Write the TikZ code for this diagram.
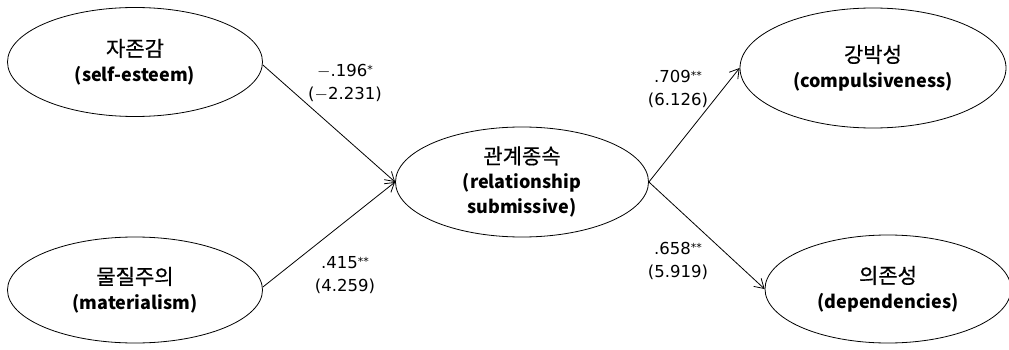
\documentclass[tikz,border=0pt]{standalone}
\usepackage{fontspec}
\setmainfont{Noto Sans CJK KR}
\newfontfamily\kr[FakeBold=0.6]{Noto Sans CJK KR}
\newfontfamily\numfont{DejaVu Sans}
\usetikzlibrary{shapes.geometric,arrows.meta}
\tikzset{
  var/.style={draw, line width=0.8pt, ellipse, align=center, inner sep=0pt, font=\fontsize{18}{25}\selectfont},
  path/.style={line width=0.8pt, -{Straight Barb[length=9pt,width=11pt,line width=0.8pt]}},
  coef/.style={align=center, font=\numfont\fontsize{16.5}{23}\selectfont}
}
\newcommand{\sig}[1]{\raisebox{0.3ex}{\fontsize{11}{11}\selectfont #1}}
\newcommand{\en}[1]{\textbf{#1}}
\newcommand{\ko}[1]{{\kr\fontsize{21}{25}\selectfont #1}}
\begin{document}
\begin{tikzpicture}[x=1pt,y=-1pt]
\useasboundingbox (0,0) rectangle (1009,350);
\node[var, minimum width=255pt, minimum height=109pt] (se) at (135,62) {\ko{자존감}\\\en{(self-esteem)}};
\node[var, minimum width=255pt, minimum height=106pt] (ma) at (135,290) {\ko{물질주의}\\\en{(materialism)}};
\node[var, minimum width=253pt, minimum height=110pt] (rs) at (522,182) {\ko{관계종속}\\\en{(relationship}\\\en{submissive)}};
\node[var, minimum width=266pt, minimum height=120pt] (co) at (873,68) {\ko{강박성}\\\en{(compulsiveness)}};
\node[var, minimum width=246pt, minimum height=108pt] (de) at (888,289) {\ko{의존성}\\\en{(dependencies)}};
\draw[path] (se.east) ++(0,3) -- (rs.west);
\draw[path] (ma.east) ++(0,-3) -- (rs.west);
\draw[path] (rs.east) -- (co.west);
\draw[path] (rs.east) -- (de.west);
\node[coef] (l1) at (345,83) {$-$.196\sig{*}\\($-$2.231)};
\node[coef] (l2) at (345,275) {.415\sig{**}\\(4.259)};
\node[coef] (l3) at (678,89) {.709\sig{**}\\(6.126)};
\node[coef] (l4) at (678,261) {.658\sig{**}\\(5.919)};
\end{tikzpicture}
\end{document}
